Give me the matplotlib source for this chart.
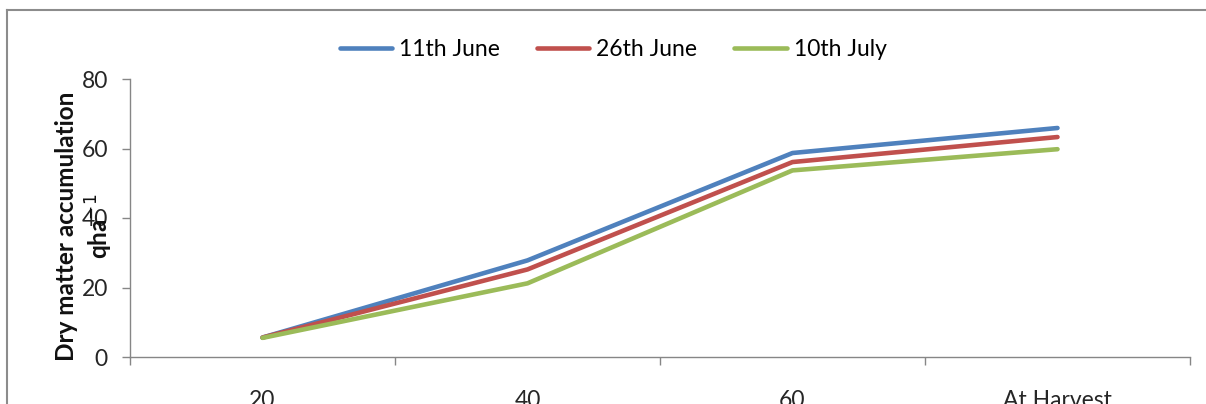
import matplotlib.pyplot as plt
from matplotlib.lines import Line2D

plt.rcParams['font.family'] = ['Lato', 'DejaVu Sans']

# Dry matter accumulation (q/ha) by stage for each sowing date
stages = ["20", "40", "60", "At Harvest"]
june_11 = [5.6, 27.8, 58.7, 65.9]
june_26 = [5.6, 25.2, 56.1, 63.3]
july_10 = [5.5, 21.2, 53.7, 59.8]
series_names = ["11th June", "26th June", "10th July"]
colors = ["#4F81BD", "#C0504D", "#9BBB59"]
y_ticks = [0, 20, 40, 60, 80]

W, H = 1206, 404
fs = 16.5
fig = plt.figure(figsize=(W / 100, H / 100), dpi=100)
ax = fig.add_axes([130 / W, 47 / H, 1060 / W, 278 / H])

x = list(range(1, len(stages) + 1))
for vals, name, c in zip([june_11, june_26, july_10], series_names, colors):
    ax.plot(x, vals, color=c, lw=3.3, solid_capstyle='round',
            solid_joinstyle='round', label=name)

axis_col = "#868686"
ax.set_xlim(0.5, len(stages) + 0.5)
ax.set_ylim(0, 80)
ax.set_yticks(y_ticks)
ax.set_xticks(x)
ax.set_xticklabels(stages)
ax.set_xticks([i + 0.5 for i in range(len(stages) + 1)], minor=True)
ax.tick_params(axis='x', which='major', length=0, pad=24, labelsize=fs,
               labelcolor="#262626")
ax.tick_params(axis='x', which='minor', length=6, color=axis_col, width=1)
ax.tick_params(axis='y', length=6, color=axis_col, width=1, pad=10,
               labelsize=fs, labelcolor="#262626")
for s in ['top', 'right']:
    ax.spines[s].set_visible(False)
for s in ['left', 'bottom']:
    ax.spines[s].set_color(axis_col)
    ax.spines[s].set_linewidth(1)

fig.text(85 / W, (H - 226) / H, "Dry matter accumulation\nqha$^{-1}$",
         rotation=90, ha='center', va='center', multialignment='center',
         fontsize=17.5, fontweight='bold', color="#111111", linespacing=1.25)

handles = [Line2D([], [], color=c, lw=3.3, solid_capstyle='round')
           for c in colors]
fig.legend(handles, series_names, loc='center', ncol=3, frameon=False,
           bbox_to_anchor=(613 / W, (H - 50) / H), fontsize=fs,
           handlelength=2.3, handletextpad=0.3, columnspacing=1.6)

# chart frame edges
fig.add_artist(Line2D([7 / W, 7 / W], [0, (H - 10) / H], color="#8c8c8c", lw=1.5))
fig.add_artist(Line2D([7 / W, 1], [(H - 10) / H, (H - 10) / H], color="#8c8c8c", lw=1.5))

fig.savefig("out.png", dpi=100)
